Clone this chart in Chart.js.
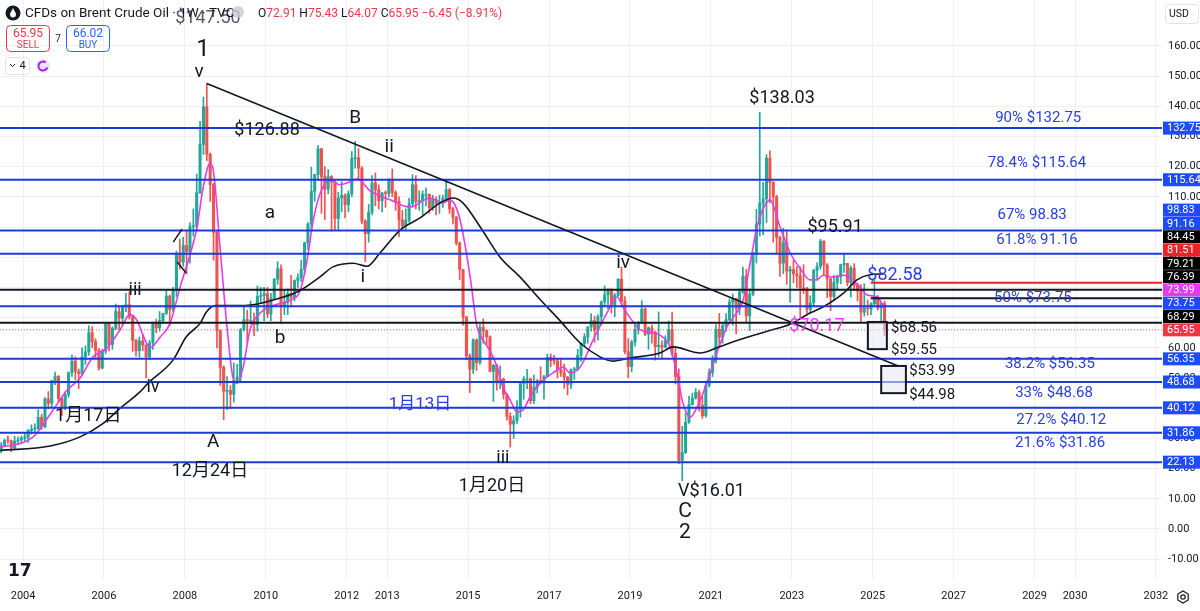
<!DOCTYPE html>
<html><head><meta charset="utf-8">
<script src="https://cdn.jsdelivr.net/npm/chart.js@4.4.1/dist/chart.umd.min.js"></script>
<style>html,body{margin:0;padding:0;background:#fff;overflow:hidden}canvas{display:block}</style>
</head><body>
<canvas id="c" width="1200" height="611" style="width:1200px;height:611px"></canvas>
<script>
// ---------- DATA (monthly candles, first = June 2003) ----------
const firstMonth = [2003, 6];
const firstOpen = 26.0;
const closes = [
 27.6,29.3,29.2,26.9,29.1,29.5,30.1,
 30.3,32.6,33.1,33.2,37.0,33.9,43.1,41.6,49.1,50.5,43.2,40.5,
 44.5,51.8,55.6,52.1,51.4,57.0,58.6,65.0,62.0,59.1,53.3,58.9,
 67.9,61.1,66.5,72.0,69.8,73.9,74.3,70.3,62.5,59.0,62.3,60.9,
 57.0,61.6,68.1,66.6,69.0,71.4,77.1,72.7,79.2,91.0,88.4,93.9,
 91.8,100.1,100.3,111.4,127.4,139.8,124.1,114.1,98.2,65.6,53.5,45.6,
 45.9,44.6,49.2,50.3,66.0,69.3,69.0,69.0,67.7,77.0,77.3,77.9,
 71.2,76.4,82.7,86.2,74.0,75.0,78.0,76.7,82.3,83.2,85.9,94.8,
 101.0,111.8,117.4,125.9,116.7,112.5,116.7,114.9,102.8,109.6,110.5,107.4,
 111.0,122.7,122.9,119.5,101.9,97.8,104.9,114.6,112.4,108.7,111.2,111.1,
 115.6,111.4,108.5,102.4,100.4,102.2,107.7,114.0,108.4,108.8,110.8,110.8,
 106.4,109.1,107.8,108.1,109.4,112.4,106.0,103.2,94.7,85.9,70.2,57.3,
 52.9,62.6,55.1,66.8,65.6,63.6,52.2,54.2,48.4,49.6,44.6,37.3,
 34.7,35.9,39.6,48.1,49.7,49.7,42.5,47.0,49.1,48.3,50.5,56.8,
 55.7,55.6,52.8,51.7,50.3,47.9,52.7,52.9,57.5,61.4,63.6,66.9,
 69.0,65.8,70.3,75.2,77.6,79.4,74.3,77.4,82.7,75.5,58.7,53.8,
 61.9,66.0,68.4,72.8,64.5,66.6,65.2,60.4,60.8,60.2,62.4,66.0,
 58.2,50.5,22.7,25.3,35.3,41.2,43.3,45.3,40.9,37.5,47.6,51.8,
 55.9,66.1,63.5,67.3,69.3,75.1,76.3,73.0,78.5,83.7,70.6,77.8,
 91.2,101.0,107.9,109.3,122.8,114.8,110.0,96.5,88.0,94.8,85.4,85.9,
 84.5,83.9,79.8,79.5,72.7,74.9,85.6,86.9,95.3,87.4,82.8,77.0,
 81.7,83.6,87.5,87.9,81.6,86.4,80.7,78.8,71.8,73.2,72.9,74.6,
 76.8,73.2,74.7,65.95
];
const highs = [
 28.6,29.8,30.8,29.5,30.7,30.5,30.8,
 31.8,32.9,34.5,34.8,39.5,38.0,43.5,45.5,49.3,52.0,50.8,43.5,
 45.5,52.0,57.6,57.0,53.0,60.0,60.6,67.3,67.0,63.0,59.8,59.5,
 68.4,68.0,67.0,74.5,74.0,74.0,78.0,78.6,70.8,62.8,63.6,64.5,
 61.0,62.5,68.5,69.5,72.0,71.5,78.7,77.5,80.0,92.0,96.0,96.6,
 99.0,101.4,106.0,117.5,135.0,143.0,147.5,124.5,114.5,98.5,66.0,54.0,
 50.5,47.5,55.0,54.5,66.5,73.5,72.5,75.5,71.5,80.5,80.0,80.0,
 80.0,78.0,83.0,88.5,87.5,79.0,79.5,84.0,82.5,84.5,89.0,95.0,
 101.5,119.8,117.5,127.0,126.0,120.0,119.0,117.0,115.5,111.5,115.0,111.0,
 112.0,125.0,128.4,126.0,120.0,102.5,107.5,117.0,117.9,114.0,111.5,112.0,
 116.0,119.2,112.0,110.0,105.5,106.0,109.5,117.3,117.0,112.0,112.0,113.0,
 111.0,110.5,110.0,110.5,110.5,115.7,112.8,106.5,103.5,95.0,86.0,70.5,
 58.0,63.0,63.0,67.8,69.6,66.0,64.0,54.5,54.5,54.0,50.0,44.8,
 38.5,37.5,42.5,48.5,50.5,52.9,50.0,51.0,49.5,53.7,50.9,57.9,
 58.0,57.5,56.5,56.5,54.6,50.5,53.0,53.5,59.5,61.7,64.7,67.0,
 71.3,70.5,71.0,75.5,80.5,79.5,79.5,78.0,82.9,86.7,77.0,63.0,
 62.5,67.5,68.7,75.6,73.2,66.9,67.5,65.5,71.9,62.3,64.0,68.9,
 71.8,59.8,53.0,34.0,38.5,43.9,45.0,46.5,46.0,43.9,49.0,53.0,
 57.4,67.7,71.4,68.0,71.3,76.2,77.8,76.5,79.5,86.7,86.0,79.5,
 91.7,105.8,138.0,114.8,124.0,125.2,115.0,110.5,97.0,99.6,99.0,87.0,
 89.1,86.9,86.8,87.5,80.0,77.2,86.0,88.1,95.9,95.5,87.9,83.0,
 84.0,84.1,87.7,91.0,88.0,87.1,87.9,81.3,80.9,81.2,75.8,75.0,
 82.58,77.3,75.0,75.43
];
const lows = [
 25.2,27.2,28.3,25.6,26.5,28.0,28.6,
 29.1,28.7,31.4,32.0,33.0,33.0,33.5,39.8,40.3,47.8,42.0,37.5,
 39.5,43.6,50.5,49.4,46.5,51.0,54.5,57.5,60.0,56.6,52.6,53.0,
 58.0,59.0,59.5,66.0,66.0,67.5,72.0,69.5,58.8,57.2,56.9,59.0,
 50.0,56.0,59.5,65.0,65.5,68.0,71.0,67.5,72.0,77.0,86.0,87.0,
 84.4,88.0,97.0,99.5,111.0,124.0,122.0,108.5,89.0,60.0,47.5,36.2,
 39.5,39.8,42.0,48.0,49.0,65.5,61.5,68.0,64.0,65.5,75.0,69.0,
 70.0,69.0,76.0,81.0,68.0,71.0,71.0,73.5,75.5,80.0,82.0,84.5,
 92.5,99.0,108.5,116.0,104.5,102.5,111.0,98.7,99.0,98.8,105.0,103.0,
 105.0,110.0,119.5,116.0,101.0,88.5,95.0,104.0,107.0,106.0,105.0,106.5,
 110.0,110.0,105.5,96.8,99.5,99.0,101.5,106.5,106.0,105.5,104.0,107.0,
 104.6,105.5,104.0,104.5,106.5,108.5,104.5,101.0,94.0,82.6,67.5,56.0,
 45.2,51.5,52.5,54.5,61.5,61.0,52.0,42.2,46.0,46.5,43.0,36.0,
 27.1,30.0,35.0,37.0,43.0,46.5,41.5,41.5,45.0,48.0,43.0,50.5,
 53.7,54.5,50.0,50.5,46.6,44.4,46.5,49.5,52.5,55.5,60.5,61.5,
 65.5,61.8,62.5,67.5,74.0,72.8,71.5,70.3,77.0,74.5,58.0,50.0,
 52.0,60.5,64.5,68.0,64.0,59.5,61.5,55.9,57.0,56.2,60.0,61.5,
 57.2,48.0,21.6,16.01,25.0,35.0,41.0,43.0,39.0,36.6,37.0,47.0,
 50.5,55.0,60.3,61.5,65.5,68.9,67.5,64.6,71.0,78.0,68.6,65.7,
 77.2,88.1,97.0,97.5,101.5,108.0,95.0,91.5,83.6,84.5,81.0,75.1,
 81.5,80.0,70.1,78.0,71.5,71.6,73.8,82.5,86.0,84.0,76.6,72.3,
 75.7,79.5,81.2,85.0,80.5,76.8,79.0,75.5,68.7,70.5,70.8,71.0,
 74.0,72.5,68.3,64.07
];

// Moving averages (year, value)
const purpleYears = [2003.43,2004.25,2004.67,2005.09,2005.41,2005.73,2006.08,2006.40,2006.64,2006.82,2006.97,2007.14,2007.39,2007.63,2007.88,2008.13,2008.30,2008.45,2008.62,2008.70,2008.87,2009.04,2009.19,2009.29,2009.44,2009.61,2009.86,2010.18,2010.60,2010.85,2011.02,2011.17,2011.34,2011.59,2011.83,2012.08,2012.26,2012.58,2013.07,2013.56,2014.06,2014.38,2014.55,2014.73,2014.87,2015.05,2015.22,2015.37,2015.54,2015.72,2015.86,2016.04,2016.21,2016.36,2016.53,2016.78,2017.10,2017.35,2017.52,2017.77,2018.09,2018.43,2018.68,2018.83,2019.00,2019.25,2019.50,2019.74,2019.99,2020.16,2020.31,2020.49,2020.66,2020.90,2021.15,2021.40,2021.55,2021.80,2021.97,2022.14,2022.29,2022.46,2022.71,2022.96,2023.20,2023.45,2023.62,2023.77,2024.02,2024.27,2024.51,2024.69,2024.86,2025.11,2025.26];
const purpleVals = [27,30.5,38,46,50,57,60,66,71,69,64,60,63.6,68,80,91,100,113,121,119,93,67,50,48.3,53.6,66,71.5,74,75.8,79,89,102,111,115.6,114,115,116,112,109,106.6,109.6,108,109,105.6,98,83.5,67,62.6,59,53.6,47,42.7,38.7,39.4,43.7,48.3,51.7,53.6,51.7,53.6,62.6,71.5,76.8,73.5,70,66,65,64.2,60.3,51.6,41.7,37,40.4,48.3,58.3,67,70,76,88,100,106,109,100,91.4,86.4,82.5,82.5,84,83.4,84,82.5,80,77.5,76.8,73.99];
const blackYears = [2003.43,2004.67,2005.41,2005.98,2006.40,2006.89,2007.09,2007.71,2008.03,2008.37,2008.54,2008.75,2009.49,2010.35,2010.85,2011.34,2011.66,2012.16,2012.50,2012.82,2013.32,2013.81,2014.31,2014.63,2014.87,2015.30,2015.79,2016.28,2016.78,2017.27,2017.77,2018.26,2018.58,2019.00,2019.74,2020.07,2020.73,2021.15,2021.55,2022.39,2022.96,2023.45,2023.77,2024.27,2024.61,2024.93,2025.26];
const blackVals = [26,27.5,30.5,35,40,45.4,48.3,56,63.6,68,72,74,74,76.5,79,83.5,86.8,88,87,91.4,99,103,108,109.6,108,100,90,83.5,76,69,61.6,57,55.6,56.6,58.3,60.3,58.3,60,62,65.5,67.8,71.5,73.5,78,82.5,84.2,84.45];

// Horizontal levels
const blueLevels = [132.75,115.64,98.83,91.16,73.75,56.35,48.68,40.12,31.86,22.13];
const blackLevels = [79.21,68.29];
const blackShortLevels = [76.39];
const redShortLevels = [81.51];
const lastPrice = 65.95;
const shortLevelStart = 2024.95;

// Trendline (year, value)
const trendYears = [2008.54, 2025.63];
const trendVals = [147.5, 54.0];

// Target boxes
const boxYears = [[2024.88, 2025.35],[2025.21, 2025.82]];
const boxVals = [[68.56, 59.55],[53.99, 44.98]];

// Axis
const xTickYears = [2004,2006,2008,2010,2012,2013,2015,2017,2019,2021,2023,2025,2027,2029,2030,2032];
const xMin = 2003.43, xMax = 2032.15, yMin = -16.89, yMax = 175.17;

// Right-axis price labels
const axisLabels = [
 [132.75,'#1e4bff'],[115.64,'#1e4bff'],[98.83,'#1e4bff'],[91.16,'#1e4bff'],
 [84.45,'#000000'],[81.51,'#f0202a'],[79.21,'#000000'],[76.39,'#000000'],
 [73.99,'#e33cf0'],[73.75,'#1e4bff'],[68.29,'#000000'],[65.95,'#f23645'],
 [56.35,'#1e4bff'],[48.68,'#1e4bff'],[40.12,'#1e4bff'],[31.86,'#1e4bff'],[22.13,'#1e4bff']
];

// Text annotations: text, year, value, size, color, align
const K='#131722', BL='#2a40dd', MG='#e33cf0';
const notes = [
 ['$147.50',2008.57,168.9,18,'#555a66','center'],
 ['1',2008.45,158.6,24,K,'center'],
 ['v',2008.35,151.3,19,K,'center'],
 ['$126.88',2010.03,132.1,18,K,'center'],
 ['B',2012.21,136.1,19,K,'center'],
 ['ii',2013.05,126.5,19,K,'center'],
 ['a',2010.10,104.6,19,K,'center'],
 ['i',2012.40,83.4,19,K,'center'],
 ['iii',2006.77,79.1,18,K,'center'],
 ['b',2010.35,63.2,19,K,'center'],
 ['iv',2007.21,47.0,18,K,'center'],
 ['1月17日',2005.61,37.1,18,K,'center'],
 ['A',2008.70,28.8,19,K,'center'],
 ['12月24日',2008.62,19.2,18,K,'center'],
 ['1月13日',2013.81,41.1,17,BL,'center'],
 ['iii',2015.86,23.5,18,K,'center'],
 ['1月20日',2015.59,14.2,18,K,'center'],
 ['iv',2018.83,88.1,19,K,'center'],
 ['$138.03',2022.76,142.7,18,K,'center'],
 ['$95.91',2024.07,99.7,18,K,'center'],
 ['$82.58',2025.55,84.1,18,BL,'center'],
 ['$70.17',2023.62,66.9,18,MG,'center'],
 ['$68.56',2025.45,66.6,15,K,'left'],
 ['$59.55',2025.45,59.3,15,K,'left'],
 ['$53.99',2025.90,52.3,15,K,'left'],
 ['$44.98',2025.90,44.4,15,K,'left'],
 ['V$16.01',2020.19,12.3,18,K,'left'],
 ['C',2020.36,5.6,21,K,'center'],
 ['2',2020.36,-1.3,21,K,'center'],
 ['90% $132.75',2029.09,136.1,15,BL,'center'],
 ['78.4% $115.64',2029.06,121.2,15,BL,'center'],
 ['67% 98.83',2028.94,104.0,15,BL,'center'],
 ['61.8% 91.16',2029.06,95.7,15,BL,'center'],
 ['50% $73.75',2028.96,76.5,15,BL,'center'],
 ['38.2% $56.35',2029.38,54.6,15,BL,'center'],
 ['33% $48.68',2029.48,45.0,15,BL,'center'],
 ['27.2% $40.12',2029.66,36.1,15,BL,'center'],
 ['21.6% $31.86',2029.63,28.5,15,BL,'center']
];
// small wave marks near late 2007
const marks = [[[2007.71,95.0],[2007.93,99.3]],[[2007.81,88.4],[2008.03,84.8]]];

// ---------- BUILD ----------
const UP='#26a69a', DN='#ef5350';
const candleX = closes.map((_,i)=>{const m=firstMonth[1]-1+i; return firstMonth[0]+Math.floor(m/12)+((m%12)+0.5)/12;});
const opens = closes.map((_,i)=> i===0 ? firstOpen : closes[i-1]);
const wickData = closes.map((c,i)=>({x:candleX[i], y:[lows[i], highs[i]]}));
const bodyData = closes.map((c,i)=>({x:candleX[i], y:[Math.min(opens[i],c), Math.max(opens[i],c)]}));
const candleColors = closes.map((c,i)=> c>=opens[i]?UP:DN);

const hline = (v, x0, color, width, dash, order) => ({
  type:'line', data:[{x:x0,y:v},{x:xMax,y:v}], borderColor:color, borderWidth:width,
  borderDash:dash||[], pointRadius:0, order:order, fill:false
});

const datasets = [
  {type:'bar', data:wickData, backgroundColor:candleColors, barThickness:1, grouped:false, order:20, borderWidth:0},
  {type:'bar', data:bodyData, backgroundColor:candleColors, barThickness:2.4, grouped:false, order:19, borderWidth:0, minBarLength:1},
  {type:'line', data:purpleYears.map((x,i)=>({x, y:purpleVals[i]})), borderColor:'#e33cf0', borderWidth:1.6, pointRadius:0, cubicInterpolationMode:'monotone', order:12},
  {type:'line', data:blackYears.map((x,i)=>({x, y:blackVals[i]})), borderColor:'#131722', borderWidth:1.6, pointRadius:0, cubicInterpolationMode:'monotone', order:11},
  hline(lastPrice, xMin, 'rgba(242,54,69,0.8)', 1, [1,2], 9),
  ...blueLevels.map(v=>hline(v, xMin, '#1d3ad8', 2, null, 6)),
  ...blackLevels.map(v=>hline(v, xMin, '#131722', 2, null, 6)),
  ...blackShortLevels.map(v=>hline(v, shortLevelStart, '#131722', 2, null, 6)),
  ...redShortLevels.map(v=>hline(v, shortLevelStart, '#f0202a', 2, null, 6)),
  {type:'line', data:trendYears.map((x,i)=>({x, y:trendVals[i]})), borderColor:'#131722', borderWidth:1.6, pointRadius:0, order:3},
  ...marks.map(mk=>({type:'line', data:mk.map(p=>({x:p[0],y:p[1]})), borderColor:'#131722', borderWidth:1.5, pointRadius:0, order:3}))
];

const FONT = 'Roboto, "Noto Sans CJK SC", sans-serif';

function drawHeader(ctx){
  ctx.save();
  ctx.textBaseline='middle';
  // logo
  ctx.fillStyle='#131722'; ctx.beginPath(); ctx.arc(13,13,7.5,0,Math.PI*2); ctx.fill();
  ctx.fillStyle='#fff'; ctx.beginPath(); ctx.moveTo(13,8); ctx.lineTo(10.2,13.6); ctx.lineTo(15.8,13.6); ctx.closePath(); ctx.fill();
  ctx.beginPath(); ctx.arc(13,14.6,2.9,0,Math.PI*2); ctx.fill();
  ctx.font='13.5px '+FONT; ctx.fillStyle='#131722'; ctx.textAlign='left';
  ctx.fillText('CFDs on Brent Crude Oil · 1W · TVC', 25, 13.5);
  ctx.fillStyle='rgba(200,203,211,0.8)'; ctx.beginPath(); ctx.arc(238,12,6,0,Math.PI*2); ctx.fill();
  // OHLC
  ctx.font='12px '+FONT;
  let x=258;
  const parts=[['O',K],['72.91','#f23645'],[' H',K],['75.43','#f23645'],[' L',K],['64.07','#f23645'],[' C',K],['65.95','#f23645'],[' −6.45 (−8.91%)','#f23645']];
  parts.forEach(p=>{ctx.fillStyle=p[1]; ctx.fillText(p[0],x,13.5); x+=ctx.measureText(p[0]).width;});
  // sell / buy
  ctx.lineWidth=1;
  ctx.strokeStyle='#f23645'; ctx.beginPath(); ctx.roundRect(6.5,25.5,43,26,4); ctx.stroke();
  ctx.strokeStyle='#2962ff'; ctx.beginPath(); ctx.roundRect(66.5,25.5,43,26,4); ctx.stroke();
  ctx.textAlign='center';
  ctx.font='12px '+FONT; ctx.fillStyle='#f23645'; ctx.fillText('65.95',28,33.5);
  ctx.font='10px '+FONT; ctx.fillText('SELL',28,45);
  ctx.font='12px '+FONT; ctx.fillStyle='#2962ff'; ctx.fillText('66.02',88,33.5);
  ctx.font='10px '+FONT; ctx.fillText('BUY',88,45);
  ctx.font='10px '+FONT; ctx.fillStyle='#131722'; ctx.fillText('7',58,39);
  // dropdown
  ctx.strokeStyle='#e0e3eb'; ctx.beginPath(); ctx.roundRect(5.5,57.5,24,17,3); ctx.stroke();
  ctx.strokeStyle='#131722'; ctx.lineWidth=1; ctx.beginPath(); ctx.moveTo(10,64); ctx.lineTo(12.5,66.5); ctx.lineTo(15,64); ctx.stroke();
  ctx.fillStyle='#131722'; ctx.font='11px '+FONT; ctx.fillText('4',22.5,66.5);
  ctx.strokeStyle='#9c27f0'; ctx.lineWidth=2; ctx.beginPath(); ctx.arc(43,66,4.5,0.3,Math.PI*1.7); ctx.stroke();
  ctx.fillStyle='rgba(156,39,240,0.15)'; ctx.beginPath(); ctx.arc(43,66,7,0,Math.PI*2); ctx.fill();
  ctx.restore();
}

const overlay = {
  id:'overlay',
  afterDatasetsDraw(chart){
    const {ctx, scales:{x, y}} = chart;
    ctx.save();
    boxYears.forEach((bx,i)=>{
      const x0=x.getPixelForValue(bx[0]), x1=x.getPixelForValue(bx[1]);
      const y0=y.getPixelForValue(boxVals[i][0]), y1=y.getPixelForValue(boxVals[i][1]);
      ctx.fillStyle='rgba(230,234,243,0.55)'; ctx.fillRect(x0,y0,x1-x0,y1-y0);
      ctx.strokeStyle='#131722'; ctx.lineWidth=2; ctx.strokeRect(x0,y0,x1-x0,y1-y0);
    });
    ctx.textBaseline='middle';
    notes.forEach(n=>{
      ctx.font=n[3]+'px '+FONT; ctx.fillStyle=n[4]; ctx.textAlign=n[5];
      ctx.fillText(n[0], x.getPixelForValue(n[1]), y.getPixelForValue(n[2]));
    });
    ctx.restore();
  },
  afterDraw(chart){
    const {ctx, scales:{y}, chartArea} = chart;
    ctx.save();
    // right axis labels, stacked bottom-up
    const h=13.3;
    const items = axisLabels.map(a=>({v:a[0], c:a[1], py:y.getPixelForValue(a[0])})).sort((a,b)=>b.py-a.py);
    let prev=Infinity;
    items.forEach(it=>{ it.y=Math.min(it.py, prev-h); prev=it.y; });
    ctx.textBaseline='middle'; ctx.textAlign='left'; ctx.font='11px '+FONT;
    items.slice().reverse().forEach(it=>{
      ctx.fillStyle=it.c; ctx.fillRect(chartArea.right+1, it.y-6.5, 37, 13);
      ctx.fillStyle='#fff'; ctx.fillText(it.v.toFixed(2), chartArea.right+5, it.y+0.5);
    });
    // USD box
    ctx.strokeStyle='#e0e3eb'; ctx.lineWidth=1; ctx.beginPath(); ctx.roundRect(1165.5,4.5,33,19,3); ctx.stroke();
    ctx.fillStyle='#131722'; ctx.font='10.5px '+FONT; ctx.fillText('USD',1169,14.5);
    ctx.beginPath(); ctx.moveTo(1191,13); ctx.lineTo(1193,15); ctx.lineTo(1195,13); ctx.stroke();
    // gear
    ctx.strokeStyle='#131722'; ctx.lineWidth=1.2; ctx.beginPath();
    for(let k=0;k<6;k++){const a=Math.PI/3*k+Math.PI/6; const px=1183+6*Math.cos(a), py=597+6*Math.sin(a); k?ctx.lineTo(px,py):ctx.moveTo(px,py);} ctx.closePath(); ctx.stroke();
    ctx.beginPath(); ctx.arc(1183,597,2.2,0,Math.PI*2); ctx.stroke();
    // TV logo
    ctx.fillStyle='#131722'; ctx.font='bold 17px "DejaVu Sans", sans-serif'; ctx.textAlign='left';
    ctx.fillText('17',8,572);
    drawHeader(ctx);
    ctx.restore();
  }
};

new Chart(document.getElementById('c'), {
  type:'bar',
  data:{datasets},
  options:{
    responsive:false, animation:false, events:[],
    layout:{padding:0},
    plugins:{legend:{display:false}, tooltip:{enabled:false}},
    scales:{
      x:{type:'linear', min:xMin, max:xMax, offset:false,
         grid:{color:'#eef0f4', drawTicks:false, offset:false}, border:{display:false},
         ticks:{autoSkip:false, maxRotation:0, padding:10, color:'#131722', font:{family:FONT, size:11}, callback:v=>String(Math.round(v))},
         afterBuildTicks:s=>{ s.ticks = xTickYears.map(v=>({value:v})); },
         afterFit:s=>{ s.height=31; s.paddingLeft=0; s.paddingRight=0; }},
      y:{type:'linear', position:'right', min:yMin, max:yMax, beginAtZero:false,
         grid:{color:'#eef0f4', drawTicks:false}, border:{display:false},
         ticks:{stepSize:10, includeBounds:false, padding:6, color:'#131722', font:{family:FONT, size:11},
                callback:v=> v>165 ? null : v.toFixed(2)},
         afterFit:s=>{ s.width=38; s.paddingTop=0; s.paddingBottom=0; }}
    }
  },
  plugins:[overlay]
});
</script>
</body></html>
